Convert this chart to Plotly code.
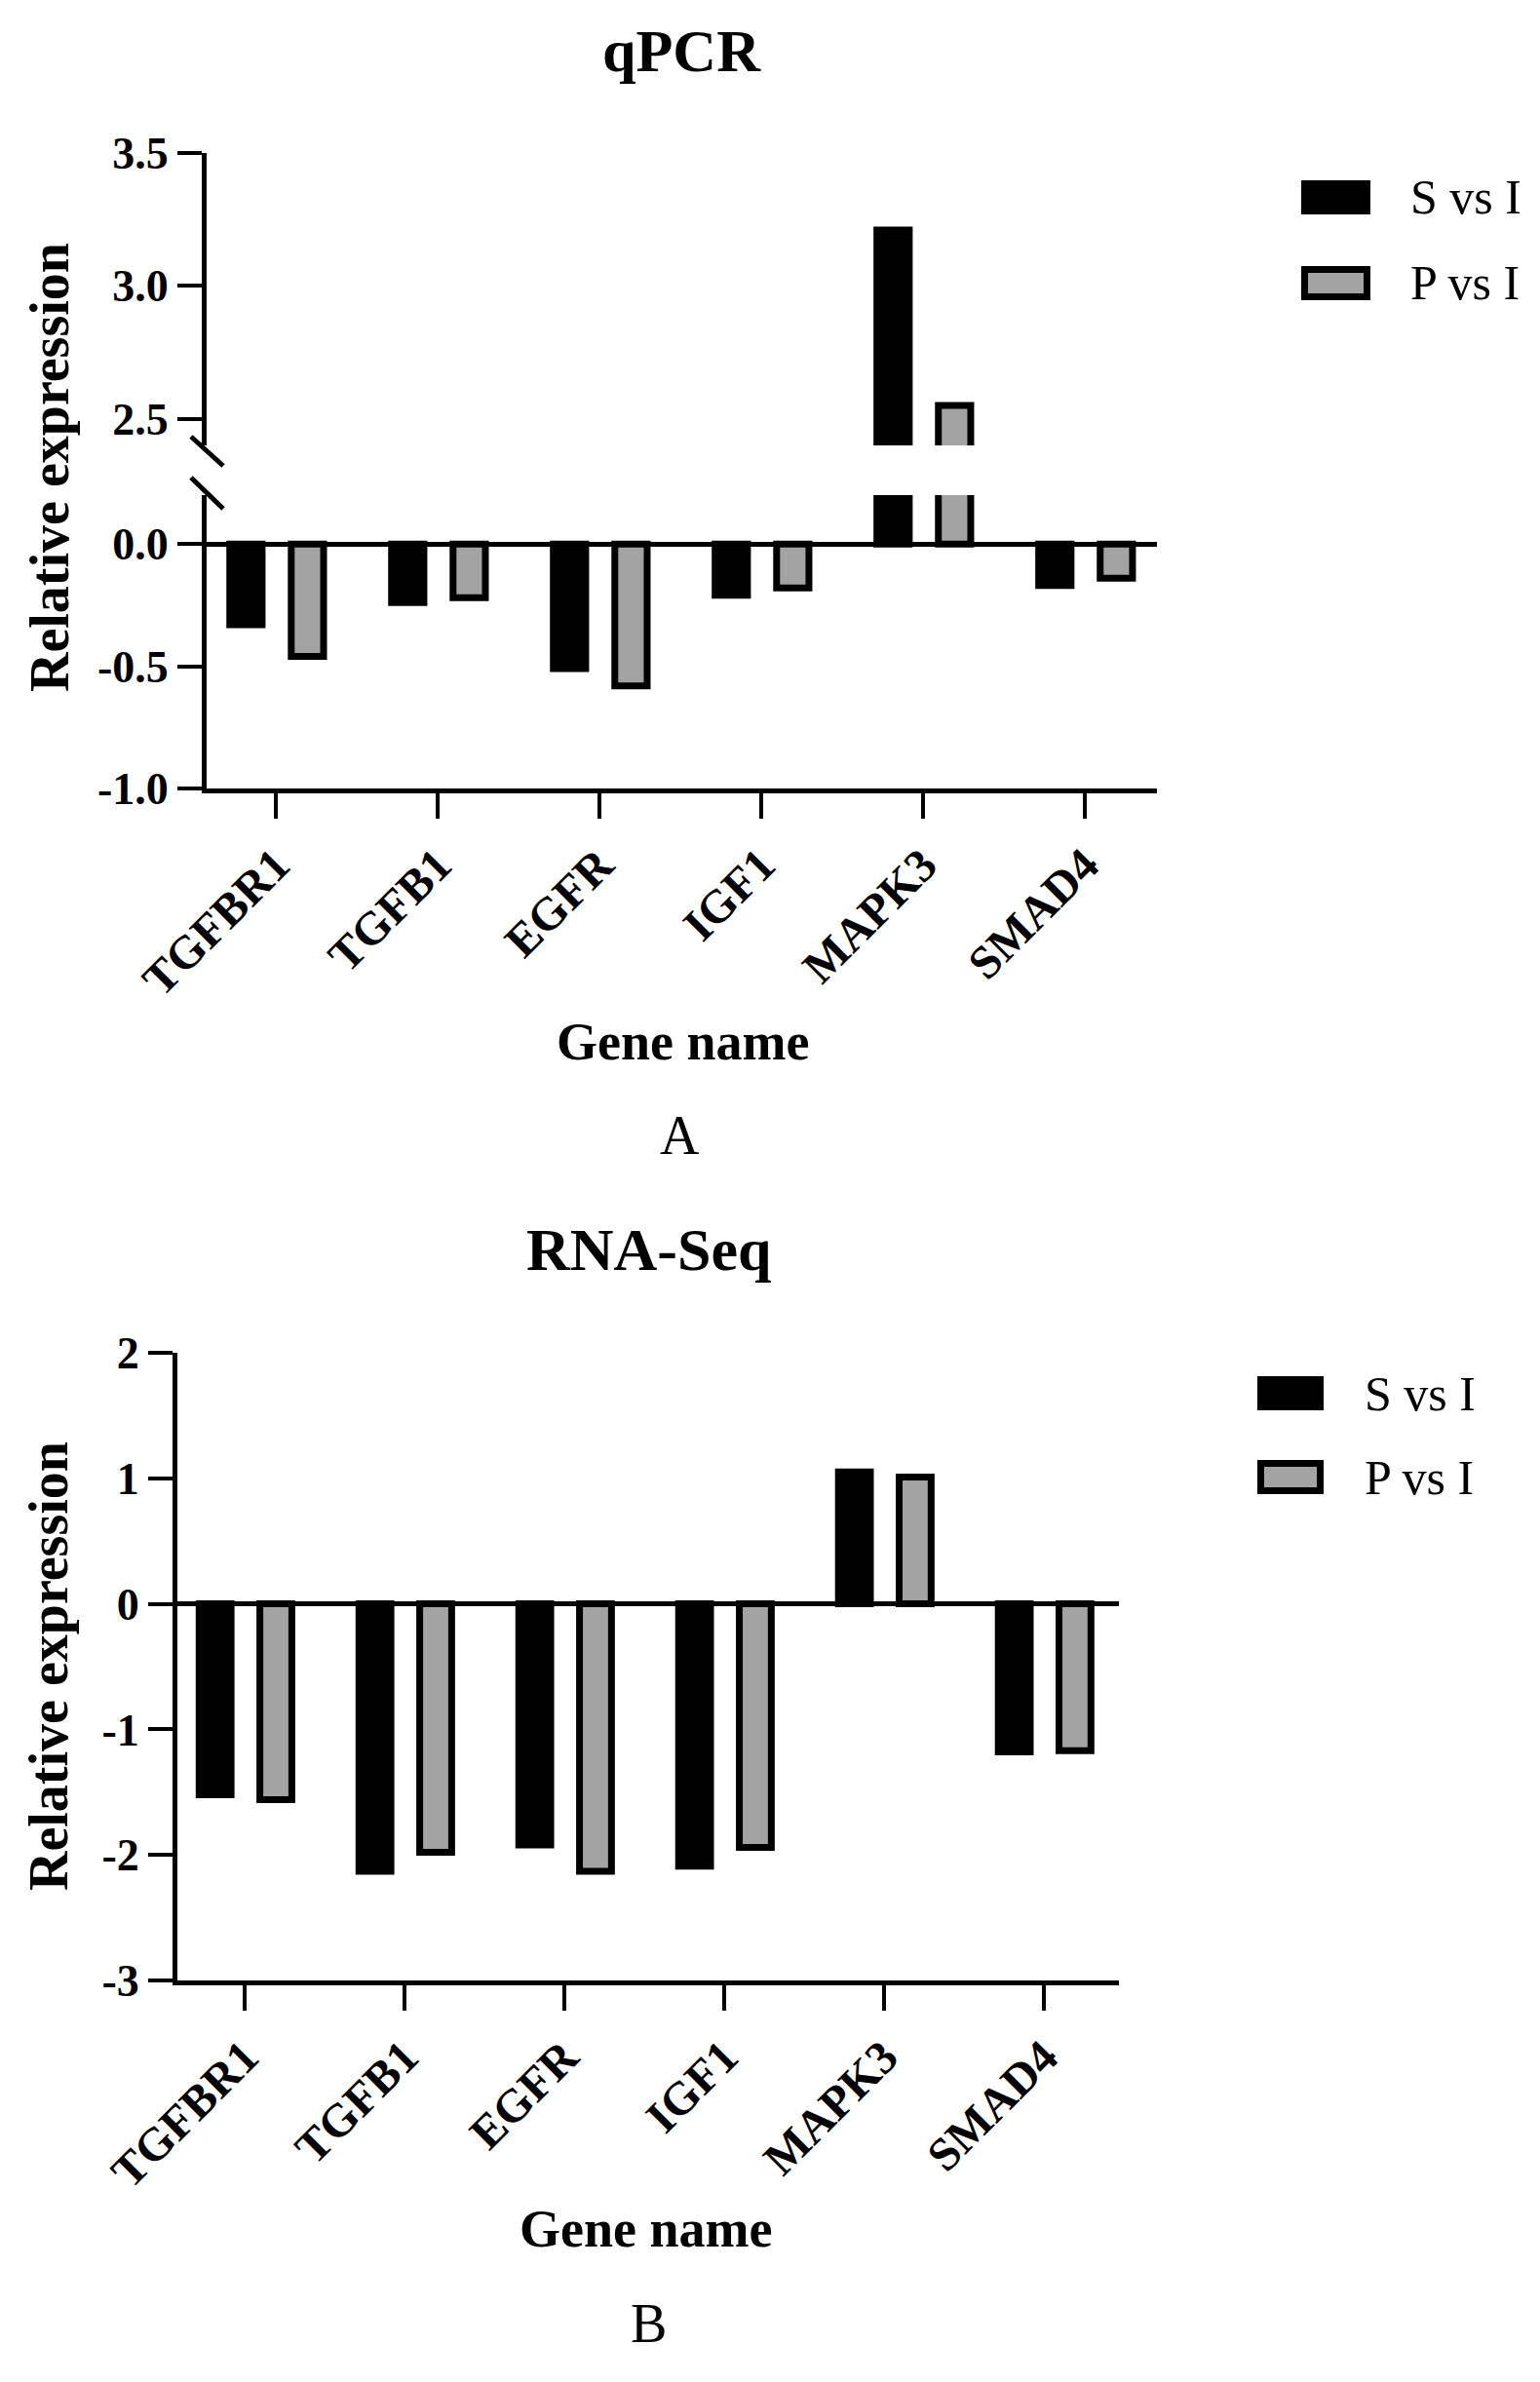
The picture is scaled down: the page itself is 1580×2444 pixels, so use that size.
import plotly.graph_objects as go

# ---------------- data ----------------
genes = ["TGFBR1", "TGFB1", "EGFR", "IGF1", "MAPK3", "SMAD4"]
series_names = ["S vs I", "P vs I"]
qpcr_s = [-0.33, -0.24, -0.51, -0.21, 3.21, -0.17]
qpcr_p = [-0.46, -0.22, -0.58, -0.18, 2.55, -0.14]
rnaseq_s = [-1.52, -2.13, -1.92, -2.09, 1.05, -1.18]
rnaseq_p = [-1.56, -1.98, -2.13, -1.94, 1.01, -1.17]
qpcr_lower_ticks = [-1.0, -0.5, 0.0]
qpcr_upper_ticks = [2.5, 3.0, 3.5]
rnaseq_ticks = [-3, -2, -1, 0, 1, 2]

# ---------------- style ----------------
W, H = 1580, 2444
SERIF = "Liberation Serif, Times New Roman, serif"
GRAY = "#a3a3a3"
COLORS = ["black", GRAY]
BAR_W = 0.2
OFFSETS = [-0.285, 0.095]
LW = 7


def px(x):
    return x / W


def py(y):
    return 1 - y / H


fig = go.Figure()


def add_bars(vals, xa, ya, name, i):
    fig.add_trace(go.Bar(
        x=genes, y=vals, name=name, xaxis=xa, yaxis=ya,
        width=BAR_W, offset=OFFSETS[i],
        marker=dict(color=COLORS[i], line=dict(color="black", width=LW)),
        showlegend=False,
    ))


# top chart (broken axis: lower and upper parts)
for i, vals in enumerate([qpcr_s, qpcr_p]):
    add_bars(vals, "x", "y", series_names[i], i)
    add_bars(vals, "x2", "y2", series_names[i], i)
# bottom chart
for i, vals in enumerate([rnaseq_s, rnaseq_p]):
    add_bars(vals, "x3", "y3", series_names[i], i)

tickfont = dict(family=SERIF, size=46, color="black", weight="bold")
catfont = dict(family=SERIF, size=48, color="black", weight="bold")

common_x = dict(type="category", categoryorder="array", categoryarray=genes,
                showline=True, linewidth=5, linecolor="black",
                ticks="outside", ticklen=26, tickwidth=4, tickcolor="black",
                tickangle=-45, tickfont=catfont, showgrid=False, zeroline=False,
                fixedrange=True, automargin=False)
common_y = dict(showline=True, linewidth=5, linecolor="black",
                ticks="outside", ticklen=25, tickwidth=4, tickcolor="black",
                tickfont=tickfont, showgrid=False, fixedrange=True,
                automargin=False)

top_xdom = [px(212), px(1187)]
top_xrange = [-0.428, 5.446]
bot_xdom = [px(182), px(1148)]
bot_xrange = [-0.421, 5.47]


def labels(vals, fmt):
    return [fmt.format(v) for v in vals]


fig.update_layout(
    template="none",
    width=W, height=H,
    margin=dict(l=0, r=0, t=0, b=0, autoexpand=False),
    paper_bgcolor="white", plot_bgcolor="white",
    barmode="overlay",
    showlegend=False,
    xaxis=dict(common_x, domain=top_xdom, range=top_xrange, anchor="y"),
    yaxis=dict(common_y, domain=[py(809), py(508)], range=[-1.0, 0.2], anchor="x",
               tickvals=qpcr_lower_ticks,
               ticktext=labels(qpcr_lower_ticks, "{:.1f}"),
               zeroline=True, zerolinewidth=5, zerolinecolor="black"),
    xaxis2=dict(common_x, domain=top_xdom, range=top_xrange, anchor="y2",
                visible=False),
    yaxis2=dict(common_y, domain=[py(457), py(157)], range=[2.4, 3.5], anchor="x2",
                tickvals=qpcr_upper_ticks,
                ticktext=labels(qpcr_upper_ticks, "{:.1f}"), zeroline=False),
    xaxis3=dict(common_x, domain=bot_xdom, range=bot_xrange, anchor="y3"),
    yaxis3=dict(common_y, domain=[py(2032), py(1388)], range=[-3, 2], anchor="x3",
                tickvals=rnaseq_ticks, ticktext=labels(rnaseq_ticks, "{:d}"),
                zeroline=True, zerolinewidth=5, zerolinecolor="black"),
)

ann = []


def text(t, x, y, size, bold=True, angle=0, xanchor="center"):
    ann.append(dict(text=t, x=px(x), y=py(y), xref="paper", yref="paper",
                    xanchor=xanchor, yanchor="middle", showarrow=False,
                    textangle=angle,
                    font=dict(family=SERIF, size=size, color="black",
                              weight="bold" if bold else "normal")))


text("qPCR", 699, 52, 62)
text("RNA-Seq", 665, 1282, 62)
text("Relative expression", 51, 480, 56, angle=-90)
text("Relative expression", 50, 1710, 56, angle=-90)
text("Gene name", 700, 1069, 54)
text("Gene name", 662, 2287, 54)
text("A", 697, 1165, 56, bold=False)
text("B", 665, 2384, 56, bold=False)

# custom legends (boxes + labels)
shapes = []


def legend_box(x0, y0, x1, y1, color):
    shapes.append(dict(type="rect", xref="paper", yref="paper",
                       x0=px(x0 + 3.5), x1=px(x1 - 3.5),
                       y0=py(y0 + 3.5), y1=py(y1 - 3.5),
                       fillcolor=color, line=dict(color="black", width=LW)))


legend_box(1335, 185, 1406, 220, COLORS[0])
legend_box(1335, 273, 1406, 308, COLORS[1])
text(series_names[0], 1445, 202, 50, bold=False, xanchor="left")
text(series_names[1], 1445, 290, 50, bold=False, xanchor="left")

legend_box(1290, 1412, 1358, 1447, COLORS[0])
legend_box(1290, 1498, 1358, 1533, COLORS[1])
text(series_names[0], 1398, 1430, 50, bold=False, xanchor="left")
text(series_names[1], 1398, 1516, 50, bold=False, xanchor="left")

# axis-break marks
for (x0, y0, x1, y1) in [(196, 448, 229, 478), (196, 490, 229, 522)]:
    shapes.append(dict(type="line", xref="paper", yref="paper",
                       x0=px(x0), y0=py(y0), x1=px(x1), y1=py(y1),
                       line=dict(color="black", width=5)))

fig.update_layout(annotations=ann, shapes=shapes)

fig.write_html(
    "out.html",
    config={"displayModeBar": False},
    post_script="document.body.style.margin='0';document.body.style.padding='0';",
)
